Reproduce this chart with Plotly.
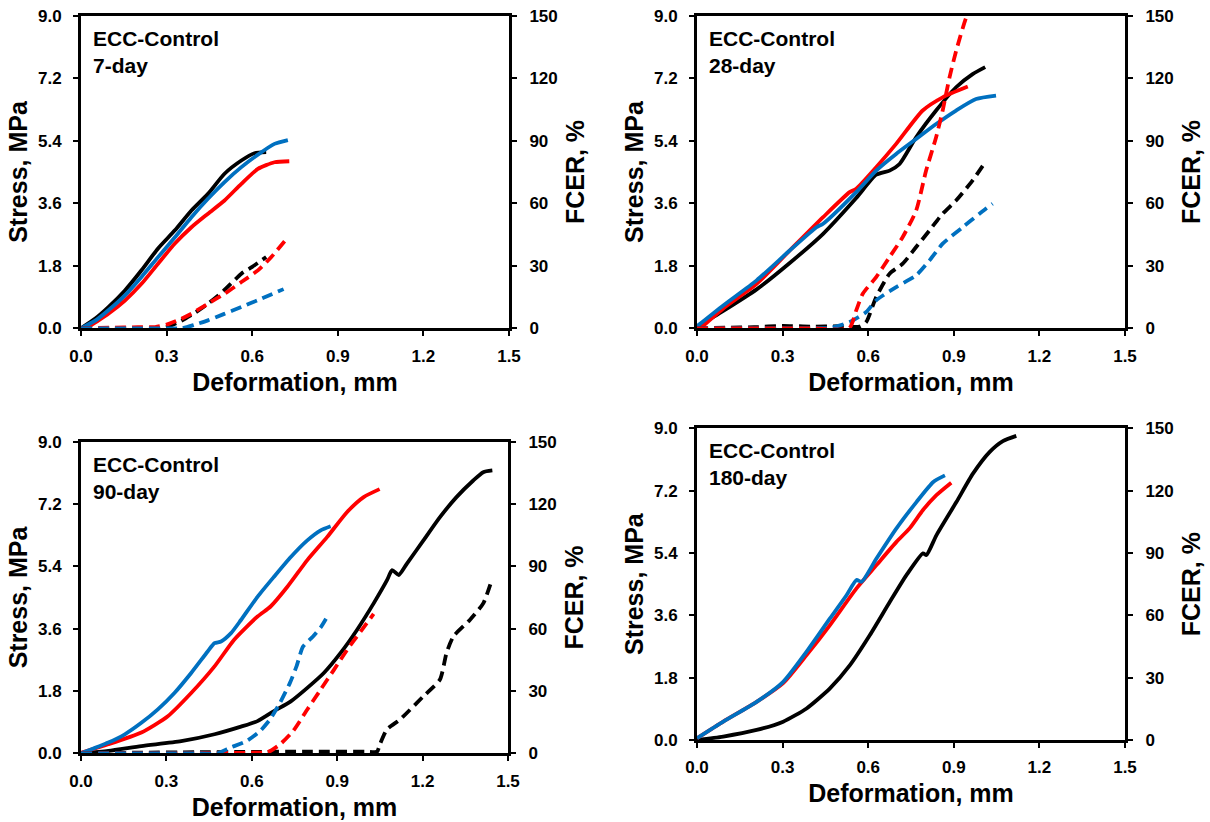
import plotly.graph_objects as go

# ---------------- DATA ----------------
# Panel 1: 7-day
d7_black_x = [0, 0.05, 0.096, 0.154, 0.212, 0.27, 0.329, 0.387, 0.445, 0.503, 0.562, 0.608, 0.649]
d7_black_s = [0, 0.28, 0.61, 1.09, 1.67, 2.30, 2.82, 3.39, 3.87, 4.45, 4.83, 5.04, 5.07]
d7_red_x = [0.02, 0.05, 0.096, 0.154, 0.212, 0.27, 0.329, 0.387, 0.445, 0.503, 0.562, 0.62, 0.678, 0.73]
d7_red_s = [0, 0.17, 0.42, 0.80, 1.28, 1.86, 2.44, 2.91, 3.30, 3.68, 4.16, 4.59, 4.78, 4.81]
d7_blue_x = [0, 0.05, 0.096, 0.154, 0.212, 0.27, 0.329, 0.387, 0.445, 0.503, 0.562, 0.62, 0.678, 0.725]
d7_blue_s = [0, 0.22, 0.52, 0.95, 1.48, 2.05, 2.62, 3.20, 3.73, 4.21, 4.64, 5.00, 5.31, 5.42]
d7_black_fx = [0, 0.1, 0.2, 0.28, 0.3, 0.35, 0.4, 0.445, 0.5, 0.562, 0.6, 0.649]
d7_black_f = [0, 0, 0, 0, 0.6, 3.5, 7.5, 11.8, 18, 26.2, 29.5, 34.2]
d7_red_fx = [0, 0.1, 0.2, 0.26, 0.3, 0.35, 0.387, 0.445, 0.503, 0.562, 0.62, 0.667, 0.715]
d7_red_f = [0, 0.3, 0.5, 0.6, 1.8, 4.5, 7, 11.8, 16.6, 22.2, 27.8, 34.2, 42]
d7_blue_fx = [0, 0.1, 0.2, 0.3, 0.353, 0.4, 0.445, 0.5, 0.562, 0.632, 0.71]
d7_blue_f = [0, 0, 0, 0, 0, 1.8, 3.8, 6.8, 10.2, 14.2, 18.8]

# Panel 2: 28-day
d28_black_x = [0.0, 0.092, 0.209, 0.325, 0.442, 0.558, 0.628, 0.675, 0.71, 0.768, 0.838, 0.908, 0.966, 1.01]
d28_black_s = [0.04, 0.5, 1.12, 1.88, 2.72, 3.75, 4.42, 4.54, 4.73, 5.5, 6.27, 6.94, 7.32, 7.52]
d28_red_x = [0.012, 0.092, 0.209, 0.325, 0.442, 0.535, 0.558, 0.628, 0.698, 0.791, 0.861, 0.949]
d28_red_s = [0, 0.57, 1.28, 2.24, 3.2, 3.92, 4.02, 4.64, 5.31, 6.27, 6.65, 6.96]
d28_blue_x = [0, 0.092, 0.209, 0.325, 0.419, 0.442, 0.558, 0.628, 0.698, 0.768, 0.838, 0.908, 0.978, 1.048]
d28_blue_s = [0.06, 0.66, 1.38, 2.24, 2.91, 3.01, 3.92, 4.54, 5.02, 5.45, 5.88, 6.27, 6.6, 6.7]
d28_black_fx = [0, 0.1, 0.2, 0.3, 0.4, 0.5, 0.57, 0.593, 0.628, 0.675, 0.721, 0.768, 0.815, 0.861, 0.908, 0.966, 1.01]
d28_black_f = [0, 0.3, 0.5, 1.2, 0.8, 1.0, 0.8, 3, 15, 26.2, 31, 39, 47, 55, 61.3, 71, 79.7]
d28_red_fx = [0, 0.2, 0.4, 0.533, 0.558, 0.581, 0.628, 0.675, 0.721, 0.768, 0.803, 0.838, 0.861, 0.885, 0.908, 0.943, 0.955]
d28_red_f = [0, 0, 0, 0, 8.6, 16.6, 24.6, 34.2, 43.8, 56.5, 75.7, 91.7, 104.5, 120.4, 133, 149, 152]
d28_blue_fx = [0, 0.1, 0.2, 0.3, 0.4, 0.47, 0.535, 0.593, 0.628, 0.698, 0.768, 0.815, 0.861, 0.931, 0.99, 1.036]
d28_blue_f = [0, 0, 0, 0, 0, 0.3, 3, 7.8, 13.4, 19.8, 25.4, 32.6, 40.6, 48.5, 55, 59.8]

# Panel 3: 90-day
d90_black_x = [0, 0.096, 0.212, 0.352, 0.469, 0.562, 0.62, 0.678, 0.737, 0.795, 0.853, 0.912, 0.97,
               1.028, 1.075, 1.093, 1.116, 1.145, 1.203, 1.261, 1.319, 1.378, 1.413, 1.445]
d90_black_s = [0, 0.07, 0.21, 0.35, 0.55, 0.77, 0.93, 1.22, 1.5, 1.89, 2.32, 2.9, 3.57,
               4.33, 5.0, 5.29, 5.15, 5.48, 6.15, 6.82, 7.4, 7.88, 8.12, 8.17]
d90_red_x = [0.0, 0.096, 0.212, 0.305, 0.387, 0.469, 0.538, 0.62, 0.666, 0.725, 0.795, 0.865, 0.935, 0.993, 1.049]
d90_red_s = [0.02, 0.26, 0.6, 1.07, 1.74, 2.51, 3.28, 3.95, 4.24, 4.81, 5.58, 6.25, 6.97, 7.4, 7.63]
d90_blue_x = [0, 0.096, 0.154, 0.212, 0.27, 0.329, 0.387, 0.445, 0.469, 0.492, 0.527, 0.562, 0.62,
              0.678, 0.737, 0.795, 0.842, 0.877]
d90_blue_s = [0, 0.31, 0.55, 0.88, 1.27, 1.75, 2.32, 2.94, 3.18, 3.23, 3.47, 3.85, 4.52,
              5.1, 5.67, 6.15, 6.44, 6.56]
d90_black_fx = [0, 0.2, 0.4, 0.6, 0.8, 1.0, 1.04, 1.05, 1.075, 1.121, 1.203, 1.261, 1.284, 1.308, 1.366, 1.413, 1.443]
d90_black_f = [0, 0.3, 0.5, 0.7, 0.8, 0.8, 0.8, 4.3, 11.5, 16.3, 27.5, 35.5, 48.3, 56.2, 64.2, 72.2, 83.4]
d90_red_fx = [0, 0.2, 0.4, 0.6, 0.655, 0.699, 0.745, 0.795, 0.842, 0.889, 0.935, 0.982, 1.028]
d90_red_f = [0, 0, 0, 0.3, 0.5, 4.3, 10.7, 21.1, 30.7, 40.3, 49.8, 58.6, 67.1]
d90_blue_fx = [0, 0.1, 0.2, 0.3, 0.4, 0.478, 0.524, 0.582, 0.629, 0.664, 0.699, 0.734, 0.757, 0.78, 0.815, 0.844, 0.864]
d90_blue_f = [0, 0, 0, 0, 0, 0, 2.7, 5.9, 10.7, 16.3, 24.3, 33.9, 41.8, 51.4, 56.2, 61, 65.5]

# Panel 4: 180-day
d180_black_x = [0, 0.092, 0.209, 0.302, 0.384, 0.466, 0.536, 0.606, 0.676, 0.734, 0.792, 0.804,
                0.839, 0.909, 0.967, 1.026, 1.072, 1.119]
d180_black_s = [0, 0.1, 0.29, 0.53, 0.91, 1.49, 2.16, 3.03, 3.99, 4.76, 5.39, 5.34,
                5.91, 6.87, 7.69, 8.32, 8.63, 8.78]
d180_red_x = [0, 0.092, 0.209, 0.302, 0.384, 0.466, 0.559, 0.629, 0.699, 0.745, 0.792, 0.839, 0.891]
d180_red_s = [0.05, 0.53, 1.1, 1.64, 2.45, 3.32, 4.38, 5.05, 5.72, 6.11, 6.64, 7.07, 7.43]
d180_blue_x = [0, 0.092, 0.209, 0.302, 0.384, 0.466, 0.524, 0.559, 0.577, 0.629, 0.699, 0.769, 0.828, 0.869]
d180_blue_s = [0.05, 0.53, 1.1, 1.68, 2.55, 3.51, 4.18, 4.62, 4.57, 5.24, 6.11, 6.87, 7.45, 7.64]

panel_labels = ["ECC-Control<br>7-day", "ECC-Control<br>28-day", "ECC-Control<br>90-day", "ECC-Control<br>180-day"]
x_ticks = [0.0, 0.3, 0.6, 0.9, 1.2, 1.5]
stress_ticks = [0.0, 1.8, 3.6, 5.4, 7.2, 9.0]
fcer_ticks = [0, 30, 60, 90, 120, 150]

# ---------------- STYLE ----------------
W, H = 1210, 822
FONT = "Liberation Sans, Arial, sans-serif"
BLACK, RED, BLUE = "#000000", "#FF0000", "#0070C0"
LW = 3.8
DASH = "11px,6px"

# pixel boxes in page coordinates: (left, right, top, bottom)
boxes = [
    (81, 509, 15.7, 328.3),
    (697, 1125, 15.7, 328.3),
    (81, 508, 441.7, 753.3),
    (697, 1125, 428.3, 740),
]

panels = [
    dict(stress=[(d7_black_x, d7_black_s, BLACK), (d7_red_x, d7_red_s, RED), (d7_blue_x, d7_blue_s, BLUE)],
         fcer=[(d7_black_fx, d7_black_f, BLACK), (d7_red_fx, d7_red_f, RED), (d7_blue_fx, d7_blue_f, BLUE)]),
    dict(stress=[(d28_black_x, d28_black_s, BLACK), (d28_red_x, d28_red_s, RED), (d28_blue_x, d28_blue_s, BLUE)],
         fcer=[(d28_black_fx, d28_black_f, BLACK), (d28_blue_fx, d28_blue_f, BLUE), (d28_red_fx, d28_red_f, RED)]),
    dict(stress=[(d90_black_x, d90_black_s, BLACK), (d90_red_x, d90_red_s, RED), (d90_blue_x, d90_blue_s, BLUE)],
         fcer=[(d90_black_fx, d90_black_f, BLACK), (d90_red_fx, d90_red_f, RED), (d90_blue_fx, d90_blue_f, BLUE)]),
    dict(stress=[(d180_black_x, d180_black_s, BLACK), (d180_red_x, d180_red_s, RED), (d180_blue_x, d180_blue_s, BLUE)],
         fcer=[]),
]

fig = go.Figure()
layout = {}
annotations = []

tickfont = dict(family=FONT, size=17, color="black", weight="bold")
titlefont = dict(family=FONT, size=25, color="black", weight="bold")

for i, (panel, box) in enumerate(zip(panels, boxes)):
    k = i + 1
    xname = "x" if k == 1 else f"x{k}"
    yl = 2 * k - 1
    yr = 2 * k
    ylname = "y" if yl == 1 else f"y{yl}"
    yrname = f"y{yr}"
    left, right, top, bottom = box
    xdom = [left / W, right / W]
    ydom = [1 - bottom / H, 1 - top / H]

    for (xs, ys, c) in panel["stress"]:
        fig.add_trace(go.Scatter(x=xs, y=ys, mode="lines", xaxis=xname, yaxis=ylname,
                                 line=dict(color=c, width=LW, shape="spline", smoothing=0.6),
                                 showlegend=False, hoverinfo="skip"))
    if panel["fcer"]:
        for (xs, ys, c) in panel["fcer"]:
            fig.add_trace(go.Scatter(x=xs, y=ys, mode="lines", xaxis=xname, yaxis=yrname,
                                     line=dict(color=c, width=LW, dash=DASH, shape="spline", smoothing=0.6),
                                     showlegend=False, hoverinfo="skip"))
    else:
        # empty trace so the right-hand FCER axis is still drawn
        fig.add_trace(go.Scatter(x=[None], y=[None], mode="lines", xaxis=xname, yaxis=yrname,
                                 showlegend=False, hoverinfo="skip"))

    xkey = "xaxis" if k == 1 else f"xaxis{k}"
    ylkey = "yaxis" if yl == 1 else f"yaxis{yl}"
    yrkey = f"yaxis{yr}"

    layout[xkey] = dict(domain=xdom, anchor=ylname, range=[0, 1.5], tickvals=x_ticks,
                        ticktext=[f"{v:.1f}" for v in x_ticks],
                        showline=True, linewidth=3, linecolor="black", mirror=True,
                        ticks="outside", ticklen=5, tickwidth=2, tickcolor="black",
                        showgrid=False, zeroline=False, tickfont=tickfont,
                        ticklabelstandoff=5,
                        title=dict(text="Deformation, mm", font=titlefont, standoff=9))
    layout[ylkey] = dict(domain=ydom, anchor=xname, range=[0, 9], tickvals=stress_ticks,
                         ticktext=[f"{v:.1f}" for v in stress_ticks],
                         showline=True, linewidth=3, linecolor="black",
                         ticks="outside", ticklen=5, tickwidth=2, tickcolor="black",
                         showgrid=False, zeroline=False, tickfont=tickfont,
                         ticklabelstandoff=8, ticklabeloverflow="allow",
                         title=dict(text="Stress, MPa", font=titlefont, standoff=4))
    layout[yrkey] = dict(domain=ydom, anchor=xname, overlaying=ylname, side="right",
                         range=[0, 150], tickvals=fcer_ticks,
                         ticktext=[str(v) for v in fcer_ticks],
                         showline=True, linewidth=3, linecolor="black",
                         ticks="outside", ticklen=5, tickwidth=2, tickcolor="black",
                         showgrid=False, zeroline=False, tickfont=tickfont,
                         ticklabelstandoff=9, ticklabeloverflow="allow",
                         title=dict(text="FCER, %", font=titlefont, standoff=10))

    annotations.append(dict(text=panel_labels[i], xref="paper", yref="paper",
                            x=(left + 10) / W, y=1 - (top + 9) / H,
                            xanchor="left", yanchor="top", align="left", showarrow=False,
                            font=dict(family=FONT, size=21, color="black", weight="bold")))

fig.update_layout(**layout)
fig.update_layout(width=W, height=H, margin=dict(l=0, r=0, t=0, b=0, autoexpand=False),
                  paper_bgcolor="white", plot_bgcolor="white", showlegend=False,
                  annotations=annotations)

fig.write_html("out.html", config={"displayModeBar": False},
               post_script="document.body.style.margin='0';document.body.style.overflow='hidden';")
